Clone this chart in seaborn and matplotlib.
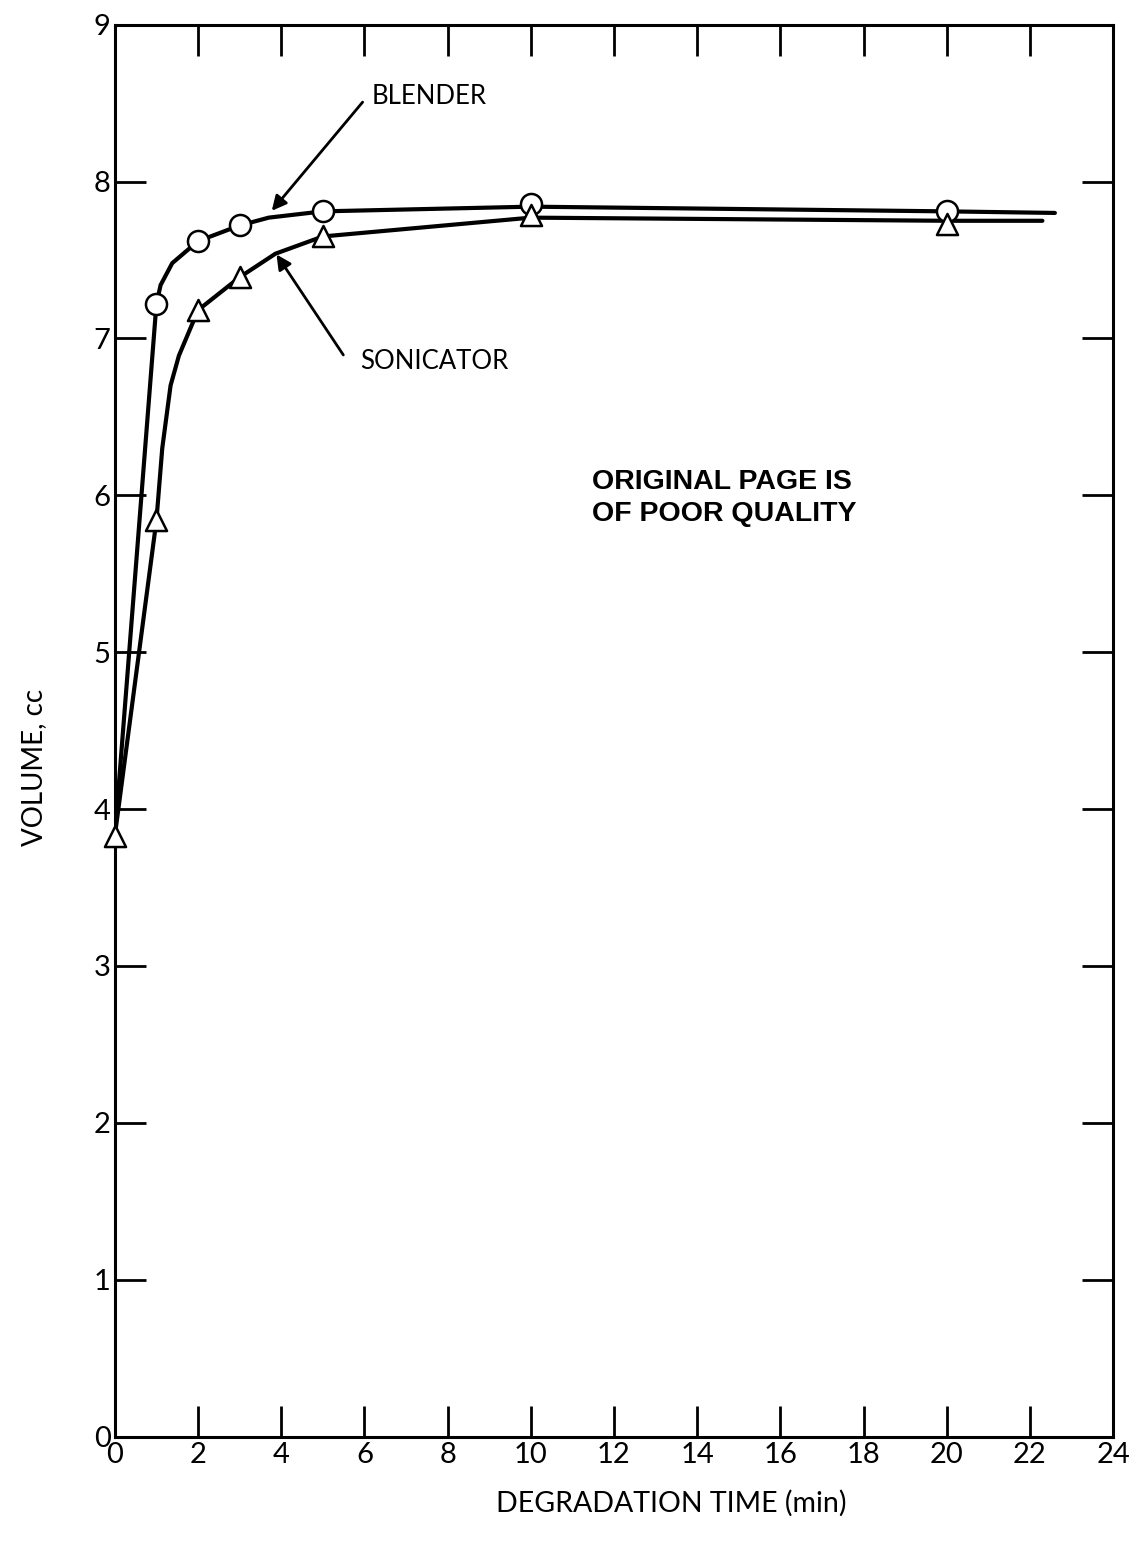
"""Volume vs degradation time: blender vs sonicator."""

import matplotlib

matplotlib.use("Agg")
import matplotlib.pyplot as plt
import pandas as pd
import seaborn as sns

# measured points (markers)
time_min = [1, 2, 3, 5, 10, 20]
blender_vol = [7.22, 7.62, 7.72, 7.81, 7.86, 7.81]
sonicator_vol = [5.84, 7.18, 7.39, 7.65, 7.79, 7.73]
start_time = [0.0]
start_vol = [3.83]

# drawn curve path
blender_curve_x = [0.0, 1.0, 1.1, 1.38, 2.0, 3.0, 3.7, 5.0, 10.0, 20.0, 22.6]
blender_curve_y = [3.83, 7.22, 7.34, 7.48, 7.62, 7.72, 7.77, 7.81, 7.84, 7.81, 7.80]
sonicator_curve_x = [0.0, 1.0, 1.14, 1.34, 1.54, 2.0, 3.0, 3.86, 5.0, 10.0, 20.0, 22.3]
sonicator_curve_y = [3.83, 5.84, 6.30, 6.70, 6.89, 7.18, 7.39, 7.54, 7.65, 7.77, 7.75, 7.75]

x_ticks = list(range(0, 25, 2))
y_ticks = list(range(0, 10))


def setup_style():
    sns.set_style("white")
    plt.rcParams.update(
        {
            "font.family": ["Lato", "DejaVu Sans"],
            "axes.linewidth": 2.2,
            "axes.edgecolor": "black",
            "axes.labelcolor": "black",
            "text.color": "black",
            "xtick.color": "black",
            "ytick.color": "black",
        }
    )


setup_style()
fig = plt.figure(figsize=(11.37, 15.43), dpi=100)
ax = fig.add_axes([0.101, 0.069, 0.878, 0.915])

curves = pd.concat(
    [
        pd.DataFrame({"t": blender_curve_x, "v": blender_curve_y, "s": "blender"}),
        pd.DataFrame({"t": sonicator_curve_x, "v": sonicator_curve_y, "s": "sonicator"}),
    ]
)
sns.lineplot(
    data=curves, x="t", y="v", hue="s", palette=["black", "black"],
    estimator=None, sort=False, linewidth=3.0, legend=False, ax=ax,
)

marker_kw = dict(s=230, facecolor="white", edgecolor="black", linewidth=1.8, zorder=5, clip_on=False)
sns.scatterplot(x=time_min, y=blender_vol, marker="o", ax=ax, **marker_kw)
sns.scatterplot(x=time_min, y=sonicator_vol, marker="^", ax=ax, **marker_kw)
sns.scatterplot(x=start_time, y=start_vol, marker="^", ax=ax, **marker_kw)

ax.set_xlim(0, 24)
ax.set_ylim(0, 9)
ax.set_xticks(x_ticks)
ax.set_yticks(y_ticks)
ax.tick_params(axis="both", direction="in", length=22, width=2, labelsize=21,
               top=True, right=True, bottom=True, left=True, pad=4)
ax.tick_params(axis="y", pad=3)

ax.set_xlabel("DEGRADATION TIME (min)", fontsize=20.5)
ax.set_ylabel("VOLUME, cc", fontsize=20)
ax.xaxis.set_label_coords(0.557, -0.038)
ax.yaxis.set_label_coords(-0.068, 0.474)

# annotations
ax.annotate("", xy=(3.73, 7.8), xytext=(6.0, 8.52),
            arrowprops=dict(arrowstyle="-|>", color="black", lw=2, mutation_scale=22))
ax.text(6.17, 8.54, "BLENDER", fontsize=18.5, va="center", ha="left")
ax.annotate("", xy=(3.85, 7.55), xytext=(5.53, 6.88),
            arrowprops=dict(arrowstyle="-|>", color="black", lw=2, mutation_scale=22))
ax.text(5.9, 6.85, "SONICATOR", fontsize=18.5, va="center", ha="left")

ax.text(11.46, 5.98, "ORIGINAL PAGE IS\nOF POOR QUALITY", fontsize=20.5, fontweight="bold",
        family=["Liberation Sans", "DejaVu Sans"], va="center", ha="left", linespacing=1.3)

sns.despine(ax=ax, top=False, right=False)
fig.savefig("out.png", dpi=100)
plt.close(fig)
print("Saved out.png")
